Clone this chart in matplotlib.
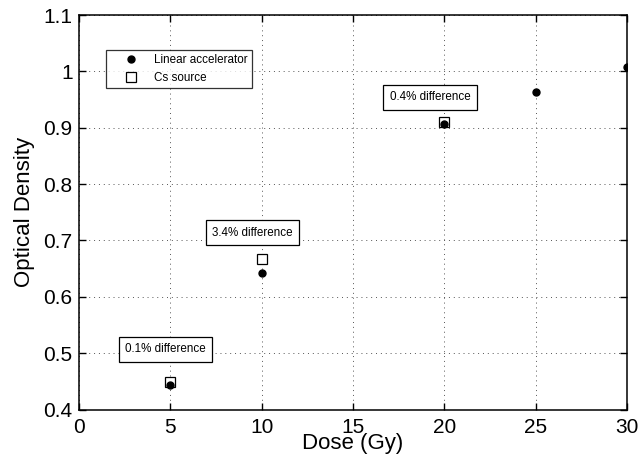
import matplotlib
matplotlib.use('Agg')
import matplotlib.pyplot as plt

# values
dose_linac = [5, 10, 20, 25, 30]
od_linac = [0.4435, 0.643, 0.907, 0.963, 1.007]
dose_cs = [5, 10, 20]
od_cs = [0.448, 0.667, 0.911]

note_labels = ['0.1% difference', '3.4% difference', '0.4% difference']
note_x = [2.52, 7.28, 17.02]
note_y = [0.5066, 0.714, 0.954]

plt.rcParams['font.family'] = ['Liberation Sans', 'DejaVu Sans']

fig = plt.figure(figsize=(6.41, 4.62), dpi=100)
ax = fig.add_axes([0.1232, 0.1136, 0.8549, 0.8539])

# dots sit on top of the squares, as in the original
ax.plot(dose_linac, od_linac, 'o', color='black', markersize=5, zorder=4,
        label='Linear accelerator')
ax.plot(dose_cs, od_cs, 's', markerfacecolor='white', markeredgecolor='black',
        markersize=6.5, markeredgewidth=0.9, zorder=3, label='Cs source')

for lab, x, y in zip(note_labels, note_x, note_y):
    ax.text(x, y, lab, fontsize=8.4, ha='left', va='center', zorder=5,
            bbox=dict(boxstyle='square,pad=0.55', facecolor='white', edgecolor='black', linewidth=0.9))

ax.set_xlim(0, 30)
ax.set_ylim(0.4, 1.1)
ax.set_xticks([0, 5, 10, 15, 20, 25, 30])
ax.set_yticks([0.4, 0.5, 0.6, 0.7, 0.8, 0.9, 1.0, 1.1])
ax.set_yticklabels(['0.4', '0.5', '0.6', '0.7', '0.8', '0.9', '1', '1.1'])
ax.tick_params(direction='in', top=True, right=True, labelsize=15, length=5, width=1)
ax.tick_params(axis='x', pad=6)
ax.tick_params(axis='y', pad=4.5)
ax.grid(True, linestyle=(0, (1, 4)), color='#555555', linewidth=0.7)
for s in ax.spines.values():
    s.set_linewidth(1.1)

ax.set_xlabel('Dose (Gy)', fontsize=16, labelpad=-3)
ax.set_ylabel('Optical Density', fontsize=16, labelpad=6)

leg = ax.legend(loc='upper left', bbox_to_anchor=(0.049, 0.911), fontsize=8.4, frameon=True,
                fancybox=False, edgecolor='black', borderpad=0.35, handletextpad=0.2,
                labelspacing=0.5, borderaxespad=0, handlelength=3.6)
leg.get_frame().set_linewidth(0.9)

plt.savefig('out.png', dpi=100)
